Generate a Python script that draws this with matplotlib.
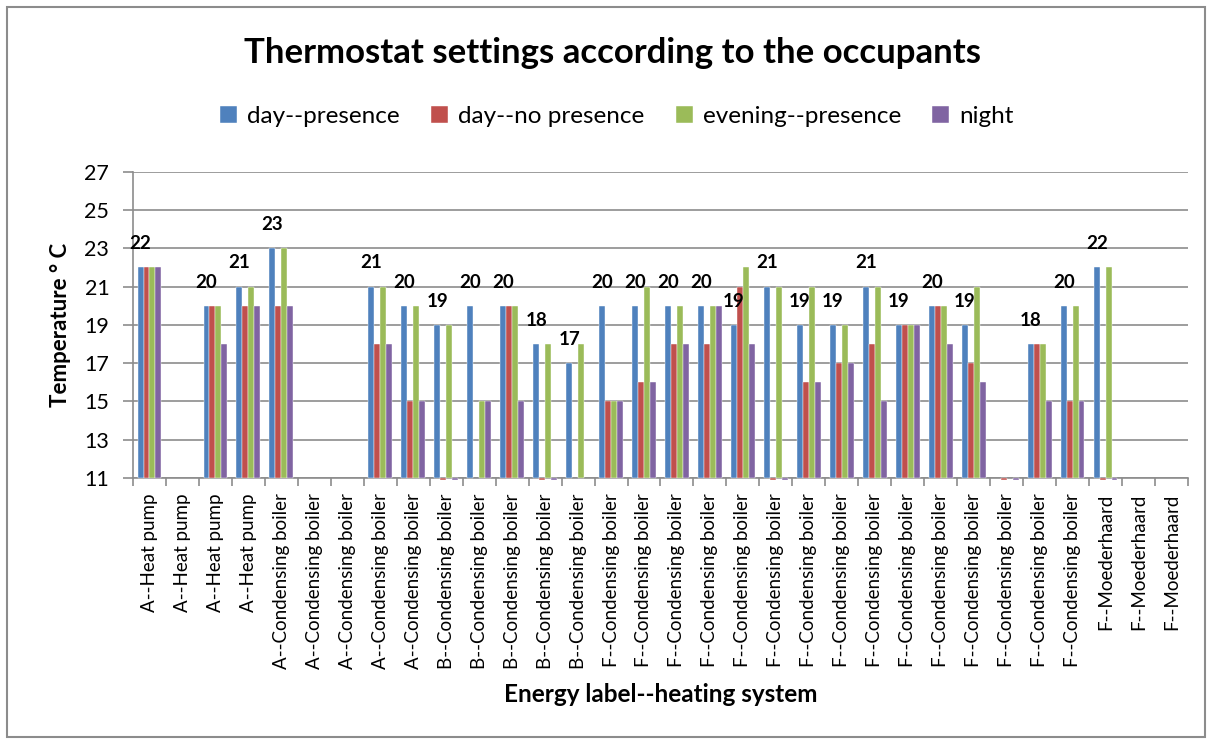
from matplotlib import pyplot as plt
from matplotlib.patches import Rectangle
import numpy as np

plt.rcParams['font.family'] = ['Lato', 'DejaVu Sans']

nan = np.nan

categories = (["A--Heat pump"] * 4 + ["A--Condensing boiler"] * 5
              + ["B--Condensing boiler"] * 5 + ["F--Condensing boiler"] * 15
              + ["F--Moederhaard"] * 3)

series_names = ["day--presence", "day--no presence", "evening--presence", "night"]
colors = ["#4F81BD", "#C0504D", "#9BBB59", "#8064A2"]

# nan = no answer, 0 = zero entered (shows only as a stub under the axis)
day_presence = [22, nan, 20, 21, 23, nan, nan, 21, 20, 19, 20, 20, 18, 17, 20, 20,
                20, 20, 19, 21, 19, 19, 21, 19, 20, 19, nan, 18, 20, 22, nan, nan]
day_no_presence = [22, nan, 20, 20, 20, nan, nan, 18, 15, 0, nan, 20, 0, nan, 15, 16,
                   18, 18, 21, 0, 16, 17, 18, 19, 20, 17, 0, 18, 15, 0, nan, nan]
evening_presence = [22, nan, 20, 21, 23, nan, nan, 21, 20, 19, 15, 20, 18, 18, 15, 21,
                    20, 20, 22, 21, 21, 19, 21, 19, 20, 21, nan, 18, 20, 22, nan, nan]
night = [22, nan, 18, 20, 20, nan, nan, 18, 15, 0, 15, 15, 0, nan, 15, 16,
         18, 20, 18, 0, 16, 17, 15, 19, 18, 16, 0, 15, 15, 0, nan, nan]

series = [day_presence, day_no_presence, evening_presence, night]

y_min, y_max = 11, 27
grid_color = "#8C8C8C"

fig = plt.figure(figsize=(12.12, 7.44), dpi=100)
ax = fig.add_axes([0.1097, 0.3575, 0.8705, 0.4117])

x = np.arange(len(categories))
w = 0.18
for k, (vals, col, name) in enumerate(zip(series, colors, series_names)):
    v = np.array(vals, dtype=float)
    pos = x + (k - 1.5) * w
    heights = np.where(v == 0, -0.12, v - y_min)
    ax.bar(pos, heights, width=w, bottom=y_min, color=col, label=name,
           edgecolor='white', linewidth=0.3, zorder=3, clip_on=False)

# data labels on the first series
for xi, v in zip(x, day_presence):
    if np.isnan(v):
        continue
    ax.annotate(f"{v:.0f}", (xi - 1.5 * w, v), xytext=(0, 17),
                textcoords='offset points', ha='center', va='center',
                fontsize=13.5, fontweight='bold', zorder=5)

ax.set_xlim(-0.5, len(categories) - 0.5)
ax.set_ylim(y_min, y_max)
ax.set_yticks(np.arange(y_min, y_max + 1, 2))
ax.set_xticks(x)
ax.set_xticklabels(categories, rotation=90, fontsize=13.5)
ax.set_xticks(np.arange(-0.5, len(categories), 1), minor=True)
ax.tick_params(axis='x', which='major', length=0, pad=11)
ax.tick_params(axis='x', which='minor', length=6, color=grid_color, width=1.2)
ax.tick_params(axis='y', length=7, color=grid_color, width=1.2, labelsize=15.5, pad=10)

ax.grid(axis='y', color=grid_color, linewidth=1.2, zorder=0)
ax.set_axisbelow(True)
for s in ['top', 'right']:
    ax.spines[s].set_visible(False)
for s in ['left', 'bottom']:
    ax.spines[s].set_color(grid_color)
    ax.spines[s].set_linewidth(1.2)

ax.set_ylabel("Temperature ° C", fontsize=16, fontweight='bold', labelpad=10)
ax.set_xlabel("Energy label--heating system", fontsize=17.5, fontweight='bold', labelpad=10)

fig.text(0.505, 0.929, "Thermostat settings according to the occupants",
         ha='center', va='center', fontsize=25, fontweight='bold')

fig.legend(loc='center', bbox_to_anchor=(0.509, 0.843), ncol=4, frameon=False,
           fontsize=17.5, handlelength=0.7, handleheight=0.7, handletextpad=0.4,
           columnspacing=1.3)

fig.patches.append(Rectangle((7 / 1212, 7 / 744), 1198 / 1212, 730 / 744,
                             transform=fig.transFigure, fill=False,
                             edgecolor='#8C8C8C', linewidth=1.5))

fig.savefig("out.png", dpi=100)
